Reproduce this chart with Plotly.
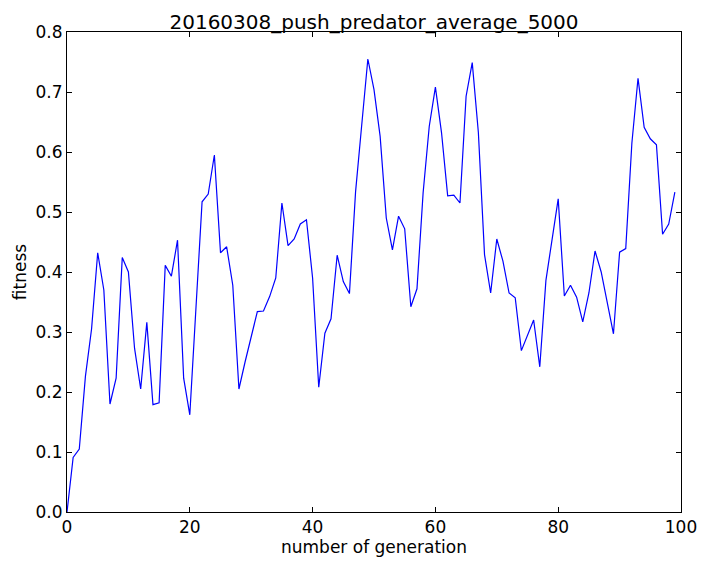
import plotly.graph_objects as go

# generation index and average fitness
generation = list(range(100))
fitness = [
    0.000, 0.091, 0.105, 0.226, 0.305, 0.432, 0.370, 0.180, 0.223, 0.424,
    0.400, 0.273, 0.205, 0.316, 0.179, 0.182, 0.411, 0.393, 0.453, 0.223,
    0.162, 0.335, 0.517, 0.530, 0.595, 0.432, 0.442, 0.378, 0.205, 0.250,
    0.292, 0.334, 0.335, 0.359, 0.390, 0.515, 0.444, 0.455, 0.480, 0.487,
    0.390, 0.208, 0.298, 0.322, 0.428, 0.384, 0.364, 0.534, 0.645, 0.755,
    0.704, 0.626, 0.490, 0.437, 0.493, 0.472, 0.342, 0.372, 0.532, 0.643,
    0.708, 0.632, 0.527, 0.528, 0.515, 0.693, 0.749, 0.632, 0.429, 0.365,
    0.455, 0.418, 0.365, 0.357, 0.269, 0.295, 0.320, 0.242, 0.386, 0.454,
    0.522, 0.360, 0.378, 0.358, 0.317, 0.365, 0.435, 0.400, 0.348, 0.297,
    0.433, 0.439, 0.615, 0.723, 0.641, 0.622, 0.612, 0.463, 0.480, 0.533,
]

x_ticks = [0, 20, 40, 60, 80, 100]
y_ticks = [0.0, 0.1, 0.2, 0.3, 0.4, 0.5, 0.6, 0.7, 0.8]

fig = go.Figure(go.Scatter(
    x=generation, y=fitness, mode="lines",
    line=dict(color="#0000ff", width=1.2),
))

axis_style = dict(
    showgrid=False, zeroline=False,
    showline=True, linecolor="black", linewidth=1,
    mirror="ticks", ticks="inside", ticklen=5, tickcolor="black",
    tickfont=dict(size=17, color="black"),
)

# the page body adds an 8px margin, so the figure is drawn 8px smaller
fig.update_layout(
    width=701, height=562,
    margin=dict(l=58, r=24, t=24, b=58),
    paper_bgcolor="white", plot_bgcolor="white",
    font=dict(family="DejaVu Sans", color="black"),
    showlegend=False,
    title=dict(
        text="20160308_push_predator_average_5000",
        x=0.5, xref="paper", xanchor="center",
        y=1, yref="paper", yanchor="bottom",
        pad=dict(b=3),
        font=dict(size=20, color="black"),
    ),
    xaxis=dict(
        range=[0, 100], tickvals=x_ticks,
        title=dict(text="number of generation", font=dict(size=17), standoff=4),
        **axis_style,
    ),
    yaxis=dict(
        range=[0, 0.8], tickvals=y_ticks, tickformat=".1f",
        title=dict(text="fitness", font=dict(size=17), standoff=4),
        **axis_style,
    ),
)

fig.write_html("out.html")
